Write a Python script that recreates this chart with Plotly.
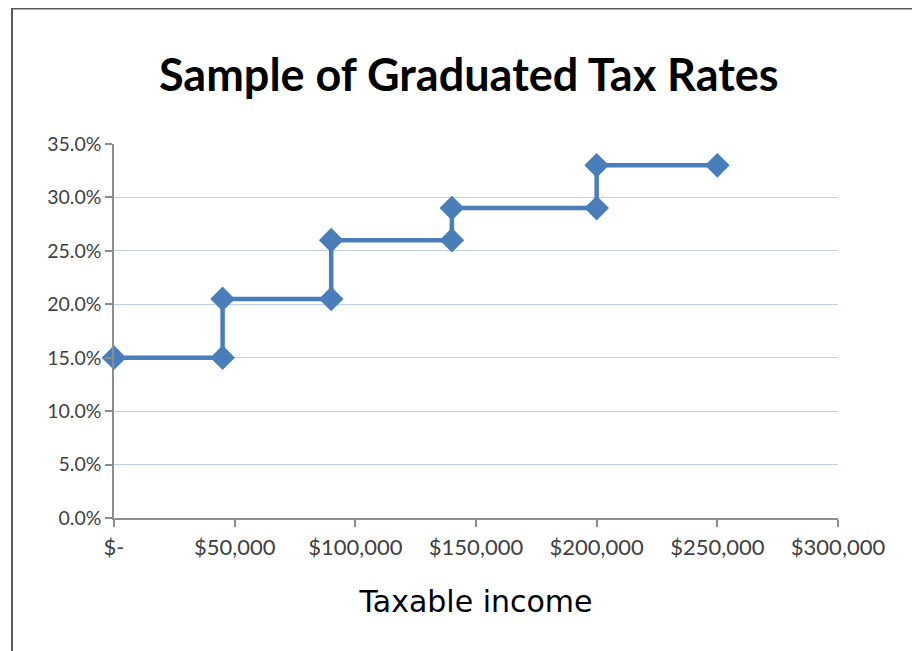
import plotly.graph_objects as go

# Data
income = [0, 45000, 45000, 90000, 90000, 140000, 140000, 200000, 200000, 250000]
rate = [0.15, 0.15, 0.205, 0.205, 0.26, 0.26, 0.29, 0.29, 0.33, 0.33]
x_tickvals = [0, 50000, 100000, 150000, 200000, 250000, 300000]
x_ticktext = ["$-", "$50,000", "$100,000", "$150,000", "$200,000", "$250,000", "$300,000"]
y_tickvals = [0, 0.05, 0.10, 0.15, 0.20, 0.25, 0.30, 0.35]

# page has an 8px body margin; figure coordinates are offset by it
W, H = 912, 643
L, R, T, B = 106, 82, 136, 133
pw, ph = W - L - R, H - T - B

def px(xp):
    return (xp - L) / pw

def py(yp):
    return (H - B - yp) / ph

fig = go.Figure()
fig.add_trace(go.Scatter(
    x=income, y=rate, mode="lines+markers",
    line=dict(color="#4A7EBB", width=4.5),
    marker=dict(symbol="diamond", size=19, color="#4A7EBB"),
    showlegend=False, cliponaxis=False,
))

xtickfont = dict(family="Lato, Open Sans, sans-serif", size=22, color="#404040")
ytickfont = dict(family="Lato, Open Sans, sans-serif", size=19.5, color="#404040")

fig.update_layout(
    width=W, height=H,
    margin=dict(l=L, r=R, t=T, b=B, autoexpand=False),
    paper_bgcolor="white", plot_bgcolor="white",
    title=dict(
        text="<b>Sample of Graduated Tax Rates</b>",
        font=dict(family="Lato, Open Sans, sans-serif", size=45, color="#000000"),
        x=0.49, xanchor="center", xref="paper",
        y=1 - 67 / H, yanchor="middle", yref="container",
    ),
    xaxis=dict(
        range=[0, 300000], tickvals=x_tickvals, ticktext=x_ticktext,
        showgrid=False, zeroline=False,
        showline=True, linecolor="#8C8C8C", linewidth=1.5,
        ticks="outside", ticklen=7, tickcolor="#8C8C8C", tickwidth=1.5,
        tickfont=xtickfont, ticklabelstandoff=2,
        title=dict(text="Taxable income",
                   font=dict(family="DejaVu Sans, sans-serif", size=30, color="#000000"),
                   standoff=32),
    ),
    yaxis=dict(
        range=[0, 0.35], tickvals=y_tickvals, tickformat=".1%",
        showgrid=True, gridcolor="#BDD0EA", gridwidth=1,
        zeroline=False,
        showline=True, linecolor="#8C8C8C", linewidth=1.5,
        ticks="outside", ticklen=7, tickcolor="#8C8C8C", tickwidth=1.5,
        tickfont=ytickfont,
    ),
    shapes=[
        dict(type="line", xref="paper", yref="paper", x0=px(4), x1=px(911), y0=py(0.5), y1=py(0.5),
             line=dict(color="#5A5A5A", width=2)),
        dict(type="line", xref="paper", yref="paper", x0=px(4), x1=px(4), y0=py(0), y1=py(660),
             line=dict(color="#5A5A5A", width=2)),
        dict(type="line", xref="paper", yref="paper", x0=px(911), x1=px(911), y0=py(0), y1=py(660),
             line=dict(color="#D0D0D0", width=1.5)),
    ],
)

fig.write_html("out.html")
